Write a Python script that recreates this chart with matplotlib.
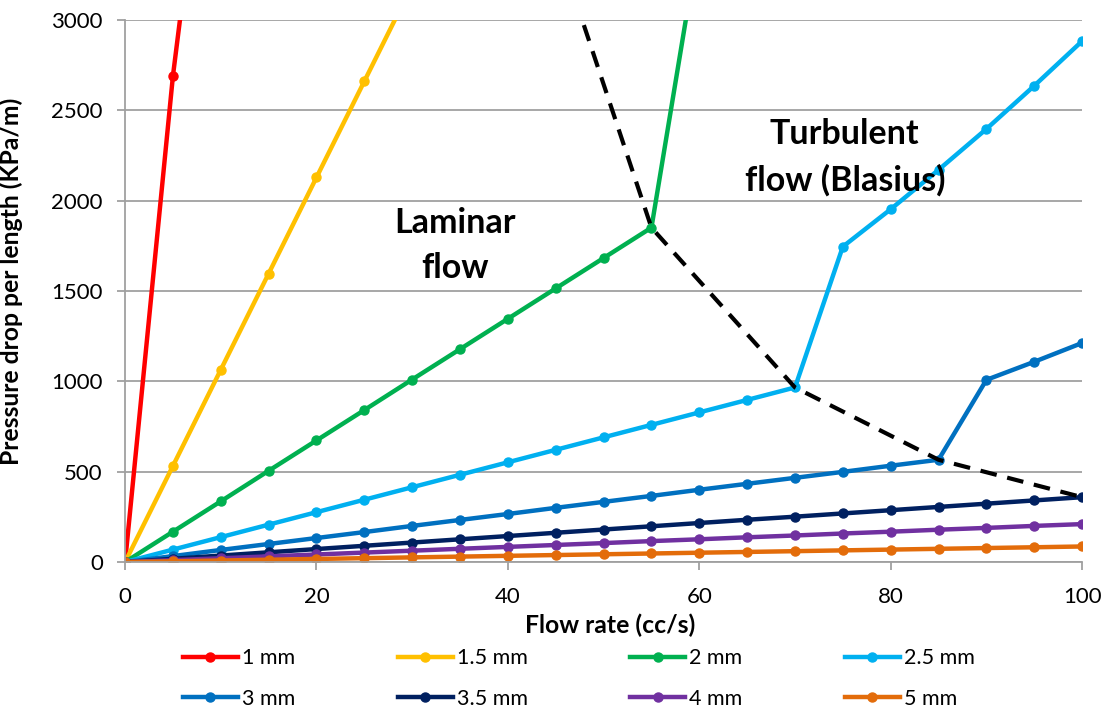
import numpy as np
from matplotlib import pyplot as plt

plt.rcParams['font.family'] = ['Lato', 'DejaVu Sans']

flow = [0, 5, 10, 15, 20, 25, 30, 35, 40, 45, 50, 55, 60, 65, 70, 75, 80, 85, 90, 95, 100]

labels = ['1 mm', '1.5 mm', '2 mm', '2.5 mm', '3 mm', '3.5 mm', '4 mm', '5 mm']
colors = ['#FF0000', '#FFC000', '#00B050', '#00B0F0', '#0070C0', '#002060', '#7030A0', '#E36C0A']

dp_1 = [0, 2690, 4800]
dp_15 = [0, 532, 1064, 1596, 2128, 2660, 3192]
dp_2 = [0, 168, 336, 505, 673, 841, 1010, 1178, 1346, 1514, 1682, 1850, 3450]
dp_25 = [0, 69, 138, 207, 276, 345, 414, 483, 552, 621, 690, 759, 828, 897, 966,
         1745, 1952, 2170, 2396, 2635, 2882]
dp_3 = [0, 33, 67, 100, 133, 166, 200, 233, 266, 300, 333, 366, 400, 433, 466,
        499, 533, 566, 1008, 1108, 1212]
dp_35 = [0, 18, 36, 54, 72, 90, 108, 126, 144, 162, 180, 198, 216, 234, 251,
         269, 287, 305, 323, 341, 359]
dp_4 = [0, 10.5, 21, 31.5, 42, 52.5, 63, 73.5, 84, 94.5, 105, 116, 126, 137, 147,
        158, 168, 179, 189, 200, 210]
dp_5 = [0, 4.3, 8.6, 12.9, 17.2, 21.6, 25.9, 30.2, 34.5, 38.8, 43.1, 47.4, 51.7,
        56, 60.3, 64.7, 69, 73.3, 77.6, 81.9, 86.2]
series = [dp_1, dp_15, dp_2, dp_25, dp_3, dp_35, dp_4, dp_5]

# transition line (laminar -> turbulent)
trans_x = [40, 55, 70, 85, 100]
trans_y = [4230, 1850, 966, 566, 359]

fig = plt.figure(figsize=(11.07, 7.07), dpi=100)
ax = fig.add_axes([0.113, 0.205, 0.8645, 0.767])

handles = []
for dp, lab, col in zip(series, labels, colors):
    h, = ax.plot(flow[:len(dp)], dp, color=col, label=lab, linewidth=3.2,
                 marker='o', markersize=6.5)
    handles.append(h)

ax.plot(trans_x, trans_y, color='black', linestyle=(0, (4, 2.6)), linewidth=3)

ax.text(34.5, 1750, 'Laminar\nflow', fontsize=24.5, fontweight='bold',
        ha='center', va='center', linespacing=1.5)
ax.text(75.2, 2240, 'Turbulent\nflow (Blasius)', fontsize=24.5, fontweight='bold',
        ha='center', va='center', linespacing=1.5)

ax.set_xlim(0, 100)
ax.set_ylim(0, 3000)
ax.set_xticks(np.arange(0, 101, 20))
ax.set_yticks(np.arange(0, 3001, 500))
ax.grid(axis='y', color='#A0A0A0', linewidth=1.3)
ax.set_axisbelow(True)
for s in ['top', 'right']:
    ax.spines[s].set_visible(False)
for s in ['left', 'bottom']:
    ax.spines[s].set_color('#A0A0A0')
    ax.spines[s].set_linewidth(1.3)
ax.tick_params(colors='#A0A0A0', labelcolor='black', labelsize=16, length=6, width=1.3)
ax.tick_params(axis='x', pad=12)
ax.tick_params(axis='y', pad=10)

ax.set_xlabel('Flow rate (cc/s)', fontsize=17.8, fontweight='bold')
ax.xaxis.set_label_coords(0.507, -0.0955)
ax.set_ylabel('Pressure drop per length (KPa/m)', fontsize=17.8, fontweight='bold')
ax.yaxis.set_label_coords(-0.1066, 0.517)

# legend is filled column by column, reorder so rows read like the original
order = [0, 4, 1, 5, 2, 6, 3, 7]
fig.legend([handles[i] for i in order], [labels[i] for i in order],
           loc='center', bbox_to_anchor=(0.523, 0.0405), ncol=4, frameon=False,
           fontsize=15.5, handlelength=2.55, columnspacing=4.75, handletextpad=0.2,
           labelspacing=0.95)

fig.savefig('out.png', dpi=100)
